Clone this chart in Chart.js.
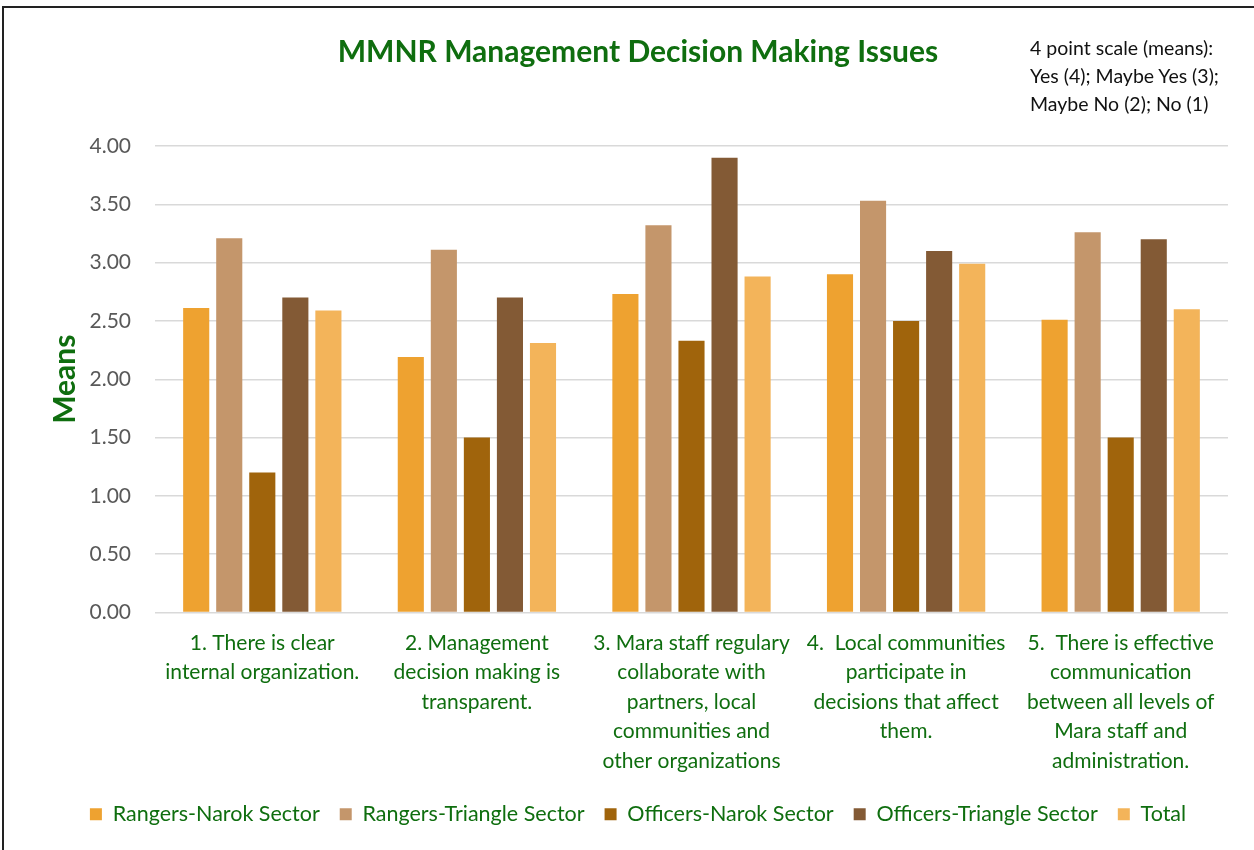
<!DOCTYPE html>
<html>
<head>
<meta charset="utf-8">
<title>MMNR Management Decision Making Issues</title>
<script src="https://cdn.jsdelivr.net/npm/chart.js@4"></script>
<style>
  html, body { margin: 0; padding: 0; background: #fff; overflow: hidden; }
  #wrap { position: relative; width: 1254px; height: 850px; }
  #frame { position: absolute; left: 2px; top: 6px; width: 1300px; height: 900px; border-left: 2px solid #222; border-top: 2px solid #222; }
  #note { position: absolute; left: 1030px; top: 34px; font-family: Lato, sans-serif; font-size: 19.5px; line-height: 28px; color: #111; }
</style>
</head>
<body>
<div id="wrap">
  <div id="frame"></div>
  <canvas id="chart" width="1254" height="850"></canvas>
  <div id="note">4 point scale (means):<br>Yes (4); Maybe Yes (3);<br>Maybe No (2); No (1)</div>
</div>
<script>
// categories (split into lines the way the original wraps them)
const categories = [
  ['1. There is clear', 'internal organization.'],
  ['2. Management', 'decision making is', 'transparent.'],
  ['3. Mara staff regulary', 'collaborate with', 'partners, local', 'communities and', 'other organizations'],
  ['4.  Local communities', 'participate in', 'decisions that affect', 'them.'],
  ['5.  There is effective', 'communication', 'between all levels of', 'Mara staff and', 'administration.']
];

// means per group
const rangersNarok = [2.61, 2.19, 2.73, 2.90, 2.51];
const rangersTriangle = [3.21, 3.11, 3.32, 3.53, 3.26];
const officersNarok = [1.20, 1.50, 2.33, 2.50, 1.50];
const officersTriangle = [2.70, 2.70, 3.90, 3.10, 3.20];
const total = [2.59, 2.31, 2.88, 2.99, 2.60];

const yTicks = [0, 0.5, 1, 1.5, 2, 2.5, 3, 3.5, 4];

const green = '#0f6e0f';

const ctx = document.getElementById('chart').getContext('2d');
const chart = new Chart(ctx, {
    type: 'bar',
    data: {
        labels: categories,
        datasets: [
            { label: 'Rangers-Narok Sector', data: rangersNarok, backgroundColor: '#eea230' },
            { label: 'Rangers-Triangle Sector', data: rangersTriangle, backgroundColor: '#c4966b' },
            { label: 'Officers-Narok Sector', data: officersNarok, backgroundColor: '#a0640c' },
            { label: 'Officers-Triangle Sector', data: officersTriangle, backgroundColor: '#835a35' },
            { label: 'Total', data: total, backgroundColor: '#f3b45a' }
        ]
    },
    options: {
        responsive: false,
        animation: false,
        categoryPercentage: 0.77,
        barPercentage: 0.79,
        layout: {
            padding: { left: 48, right: 26, top: 0, bottom: 15 }
        },
        plugins: {
            title: {
                display: true,
                text: 'MMNR Management Decision Making Issues',
                color: green,
                font: { family: 'Lato', size: 30, weight: 'bold', lineHeight: 1.2 },
                padding: { top: 34, bottom: 76 }
            },
            legend: {
                position: 'bottom',
                labels: {
                    color: green,
                    font: { family: 'Lato', size: 21.5 },
                    boxWidth: 12,
                    boxHeight: 12,
                    padding: 20
                }
            },
            tooltip: { enabled: false }
        },
        scales: {
            x: {
                grid: { display: false, drawTicks: false },
                border: { display: false },
                ticks: {
                    color: green,
                    font: { family: 'Lato', size: 21, lineHeight: 1.4 },
                    padding: 16,
                    maxRotation: 0,
                    autoSkip: false
                },
                afterFit: function(scale) { scale.height = 171; }
            },
            y: {
                min: 0,
                max: 4,
                afterBuildTicks: function(scale) {
                    scale.ticks = yTicks.map(v => ({ value: v }));
                },
                grid: { color: '#d9d9d9', lineWidth: 1.5, drawTicks: false },
                border: { display: false },
                ticks: {
                    color: '#595959',
                    font: { family: 'Lato', size: 21 },
                    padding: 24,
                    callback: function(value) { return value.toFixed(2); }
                },
                title: {
                    display: true,
                    text: 'Means',
                    color: green,
                    font: { family: 'Lato', size: 30, weight: 'bold', lineHeight: 1.0 },
                    padding: { top: 2, bottom: 0 }
                },
                afterFit: function(scale) { scale.width = 107; }
            }
        }
    }
});
</script>
</body>
</html>
